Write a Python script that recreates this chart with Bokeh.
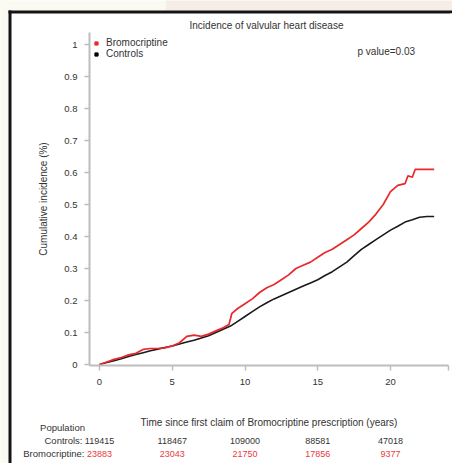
from bokeh.plotting import figure
from bokeh.models import Label, FixedTicker, Legend, LegendItem, Range1d
from bokeh.embed import file_html
from bokeh.resources import INLINE

# ---- data ----
years_bromo = [0, 0.5, 1, 1.5, 2, 2.5, 3, 3.5, 4, 4.5, 5, 5.5, 6, 6.5, 7, 7.5, 8, 8.5, 8.9, 9.1,
               9.5, 10, 10.5, 11, 11.5, 12, 12.5, 13, 13.5, 14, 14.5, 15, 15.5, 16, 16.5, 17,
               17.5, 18, 18.5, 19, 19.5, 20, 20.5, 21, 21.2, 21.5, 21.7, 23]
incidence_bromo = [0, 0.008, 0.016, 0.022, 0.03, 0.035, 0.047, 0.05, 0.05, 0.052, 0.058, 0.068,
                   0.088, 0.092, 0.088, 0.095, 0.105, 0.115, 0.125, 0.16, 0.175, 0.19, 0.205,
                   0.225, 0.24, 0.25, 0.265, 0.28, 0.3, 0.31, 0.32, 0.335, 0.35, 0.36, 0.375,
                   0.39, 0.405, 0.425, 0.445, 0.47, 0.5, 0.54, 0.56, 0.565, 0.59, 0.585, 0.61, 0.61]

years_ctrl = [0, 0.5, 1, 1.5, 2, 2.5, 3, 3.5, 4, 4.5, 5, 5.5, 6, 6.5, 7, 7.5, 8, 8.5, 9, 9.5,
              10, 10.5, 11, 11.5, 12, 12.5, 13, 13.5, 14, 14.5, 15, 15.5, 16, 16.5, 17, 17.5,
              18, 18.5, 19, 19.5, 20, 20.5, 21, 21.5, 22, 22.5, 23]
incidence_ctrl = [0, 0.006, 0.012, 0.018, 0.025, 0.031, 0.037, 0.043, 0.048, 0.053, 0.058, 0.064,
                  0.07, 0.076, 0.083, 0.09, 0.1, 0.11, 0.12, 0.135, 0.15, 0.165, 0.18, 0.193,
                  0.205, 0.215, 0.225, 0.235, 0.245, 0.255, 0.265, 0.278, 0.29, 0.305, 0.32,
                  0.34, 0.36, 0.375, 0.39, 0.405, 0.42, 0.432, 0.445, 0.452, 0.46, 0.4625, 0.4625]

x_ticks = [0, 5, 10, 15, 20, 24]
y_ticks = [0, 0.1, 0.2, 0.3, 0.4, 0.5, 0.6, 0.7, 0.8, 0.9, 1]
risk_times = [0, 5, 10, 15, 20]
controls_at_risk = ["119415", "118467", "109000", "88581", "47018"]
bromo_at_risk = ["23883", "23043", "21750", "17856", "9377"]

RED = "#e8282c"
RED_TXT = "#ea3a3e"
TXT = "#333333"
AX = "#bdbdbd"
FONT = "Liberation Sans"

W, H = 452, 463
# pixel layout: t=0 at x=99, 14.55 px per year; value 0 at y=364, 320 px per unit
X0, PXX = 99, 14.55
Y0, PXY = 364, 320.0
AXIS_X_PX, AXIS_Y_PX = 89, 365   # where the y axis and x axis lines sit


def t_of(px):
    return (px - X0) / PXX


def v_of(py):
    return (Y0 - py) / PXY


p = figure(width=W, height=H, output_backend="svg", toolbar_location=None,
           x_range=Range1d(t_of(0), t_of(W)), y_range=Range1d(v_of(H), v_of(0)),
           min_border=0, min_border_left=0, min_border_right=0, min_border_top=0,
           min_border_bottom=0)
p.background_fill_color = "white"
p.border_fill_color = "white"
p.outline_line_color = None
p.grid.visible = False

for ax in (p.xaxis[0], p.yaxis[0]):
    ax.axis_line_color = AX
    ax.axis_line_width = 2
    ax.major_tick_line_color = AX
    ax.major_tick_line_width = 1.5
    ax.major_tick_out = 5
    ax.major_tick_in = 0
    ax.minor_tick_line_color = None
    ax.major_label_text_font = FONT
    ax.major_label_text_font_size = "9.5px"
    ax.major_label_text_color = TXT
    ax.axis_label_text_font = FONT
    ax.axis_label_text_font_size = "10px"
    ax.axis_label_text_font_style = "normal"
    ax.axis_label_text_color = TXT

p.xaxis.fixed_location = v_of(AXIS_Y_PX)
p.xaxis.bounds = (t_of(AXIS_X_PX), 24)
p.xaxis.ticker = FixedTicker(ticks=x_ticks)
p.xaxis.major_label_overrides = {24: ""}
p.xaxis.major_label_standoff = 8
p.xaxis.axis_label = "Time since first claim of Bromocriptine prescription (years)"
p.xaxis.axis_label_standoff = 29

p.yaxis.fixed_location = t_of(AXIS_X_PX)
p.yaxis.bounds = (v_of(AXIS_Y_PX), v_of(32))
p.yaxis.ticker = FixedTicker(ticks=y_ticks)
p.yaxis.major_label_overrides = {0: "0", 1: "1"}
p.yaxis.major_label_standoff = 7
p.yaxis.axis_label = "Cumulative incidence (%)"
p.yaxis.axis_label_standoff = 12


# decoration of the page: outer strips and the black frame (given in pixels)
def box(x0, x1, y0, y1, color):
    p.quad(left=t_of(x0), right=t_of(x1), top=v_of(y0), bottom=v_of(y1),
           fill_color=color, line_color=None)


box(-5, 8, -5, H + 5, "#fafaf3")
box(-5, 165, -5, 10, "#fafaf3")
box(165, W + 20, -5, 10, "#f6ede7")
box(8, 11, 10, H + 20, "#141414")
box(8, W + 20, 10, 13, "#141414")
box(449.5, W + 20, 13, H + 20, "white")

# curves
p.line(years_ctrl, incidence_ctrl, line_color="#1a1a1a", line_width=1.6)
p.line(years_bromo, incidence_bromo, line_color=RED, line_width=1.7)

# legend (marker renderers hold one point outside the visible range)
lb = p.scatter(x=[-50], y=[-50], marker="square", size=7, color=RED)
lc = p.scatter(x=[-50], y=[-50], marker="square", size=7, color="black")
leg = Legend(items=[LegendItem(label="Bromocriptine", renderers=[lb]),
                    LegendItem(label="Controls", renderers=[lc])],
             location=(92, H - 35 - 24), margin=0, padding=0, spacing=-1,
             glyph_width=8, glyph_height=8, label_height=8, label_standoff=6,
             label_text_font=FONT, label_text_font_size="10px", label_text_color=TXT,
             background_fill_alpha=0, border_line_color=None)
p.add_layout(leg)


def txt(px, py, text, color=TXT, align="center", size="9.5px", x_data=None):
    if x_data is None:
        lab = Label(x=px, y=H - py, x_units="screen", y_units="screen", text=text)
    else:
        lab = Label(x=x_data, y=H - py, x_units="data", y_units="screen", text=text)
    lab.text_font = FONT
    lab.text_font_size = size
    lab.text_color = color
    lab.text_align = align
    lab.text_baseline = "middle"
    p.add_layout(lab)


txt(266, 25, "Incidence of valvular heart disease", size="10px")
txt(357, 51, "p value=0.03", align="left", size="10px")

txt(62, 427, "Population")
txt(82, 440, "Controls:", align="right")
txt(84, 453, "Bromocriptine:", align="right")
for t, c, b in zip(risk_times, controls_at_risk, bromo_at_risk):
    txt(0, 440, c, size="9px", x_data=t)
    txt(0, 453, b, color=RED_TXT, size="9px", x_data=t)

open("out.html", "w").write(file_html(p, INLINE))
